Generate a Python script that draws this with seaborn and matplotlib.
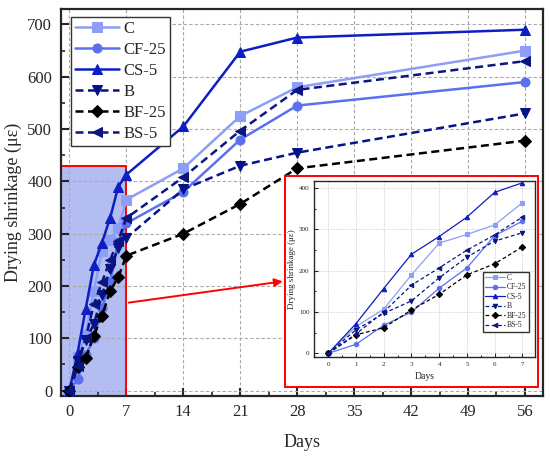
import numpy as np
import pandas as pd
import seaborn as sns
import matplotlib.pyplot as plt
from matplotlib.patches import Rectangle, FancyArrowPatch
from matplotlib.ticker import MultipleLocator

days = [0, 1, 2, 3, 4, 5, 6, 7, 14, 21, 28, 56]
C = [0, 65, 107, 190, 267, 288, 311, 365, 425, 525, 580, 650]
CF25 = [0, 22, 68, 100, 158, 207, 285, 320, 380, 480, 545, 590]
CS5 = [0, 72, 157, 240, 283, 330, 390, 413, 505, 648, 675, 690]
B = [0, 57, 97, 127, 183, 233, 272, 292, 385, 430, 455, 530]
BF25 = [0, 45, 62, 105, 143, 190, 217, 258, 300, 357, 425, 478]
BS5 = [0, 47, 100, 165, 207, 250, 287, 330, 408, 497, 575, 630]

names = ['C', 'CF-25', 'CS-5', 'B', 'BF-25', 'BS-5']
values = [C, CF25, CS5, B, BF25, BS5]
colors = ['#8c9ef8', '#5a70f0', '#0d1ec2', '#061287', '#000000', '#0a1680']
markers = ['s', 'o', '^', 'v', 'D', '<']
dashed = [False, False, False, True, True, True]

sns.set_style('ticks')
plt.rcParams['font.family'] = ['Liberation Serif', 'DejaVu Serif']
plt.rcParams['mathtext.fontset'] = 'stix'

fig = plt.figure(figsize=(5.5, 4.63), dpi=100)
ax = fig.add_axes([0.110, 0.145, 0.877, 0.836])

df = pd.DataFrame({'Days': days})
for n, v in zip(names, values):
    df[n] = v


def draw(a, ms, lw, dash):
    for n, c, m, d in zip(names, colors, markers, dashed):
        kw = {'dashes': dash} if d else {'ls': '-'}
        sns.lineplot(data=df, x='Days', y=n, ax=a, color=c, marker=m,
                     markersize=ms, lw=lw, markeredgecolor=c, label=n, zorder=3, **kw)


draw(ax, 6.5, 1.8, (3.2, 1.8))
ax.set_xlim(-1.1, 58.2)
ax.set_ylim(-10, 730)
ax.xaxis.set_major_locator(MultipleLocator(7))
ax.xaxis.set_minor_locator(MultipleLocator(3.5))
ax.yaxis.set_major_locator(MultipleLocator(100))
ax.yaxis.set_minor_locator(MultipleLocator(50))
ax.tick_params(which='both', direction='in', labelsize=12)
ax.tick_params(which='major', length=6, width=1.5, pad=6)
ax.tick_params(which='minor', length=3, width=1.2)
ax.grid(True, ls=(0, (3, 2)), color='#aaaaaa', lw=0.8)
for sp in ax.spines.values():
    sp.set_linewidth(1.6)
ax.set_xlabel('Days', fontsize=13, labelpad=10)
ax.set_ylabel('Drying shrinkage (με)', fontsize=13, labelpad=4)
ax.legend(loc='upper left', bbox_to_anchor=(0.022, 0.98), fontsize=12, frameon=True,
          fancybox=False, edgecolor='#333333', framealpha=1, handlelength=2.6,
          borderpad=0.25, labelspacing=0.3, handletextpad=0.3, borderaxespad=0)

ax.add_patch(Rectangle((-1.1, -10), 8.1, 439, facecolor='#b4bdf2',
                       edgecolor='none', zorder=0.5))
ax.plot([-1.1, 7, 7], [429, 429, -10], color='red', lw=1.4, zorder=2)

# inset frame and arrow
fig.patches.append(Rectangle((0.519, 0.1635), 0.460, 0.457, transform=fig.transFigure,
                             facecolor='white', edgecolor='red', lw=1.4, zorder=5))
fig.patches.append(FancyArrowPatch((126 / 550, 1 - 303 / 463), (0.519, 1 - 281 / 463),
                                   transform=fig.transFigure, arrowstyle='-|>',
                                   mutation_scale=12, color='red', lw=1.4, zorder=6))

ins = fig.add_axes([0.5715, 0.2296, 0.401, 0.380])
ins.set_zorder(10)
df = df[df['Days'] <= 7]
draw(ins, 3.2, 0.9, (3, 2))
ins.set_xlim(-0.5, 7.45)
ins.set_ylim(-8, 418)
ins.xaxis.set_major_locator(MultipleLocator(1))
ins.yaxis.set_major_locator(MultipleLocator(100))
ins.yaxis.set_minor_locator(MultipleLocator(50))
ins.xaxis.set_minor_locator(MultipleLocator(0.5))
ins.tick_params(which='both', direction='in', labelsize=5, width=0.8)
ins.tick_params(which='major', length=3)
ins.tick_params(which='minor', length=1.5)
ins.grid(True, ls=':', color='#bbbbbb', lw=0.6)
for sp in ins.spines.values():
    sp.set_linewidth(1.0)
ins.set_xlabel('Days', fontsize=7)
ins.set_ylabel('Drying shrinkage (με)', fontsize=6.5, labelpad=2)
ins.legend(loc='lower right', bbox_to_anchor=(0.99, 0.12), fontsize=5.5,
           frameon=True, fancybox=False, edgecolor='#333333', framealpha=1,
           handlelength=2.6, borderpad=0.3, labelspacing=0.2, handletextpad=0.3)

fig.savefig('out.png', dpi=100)
